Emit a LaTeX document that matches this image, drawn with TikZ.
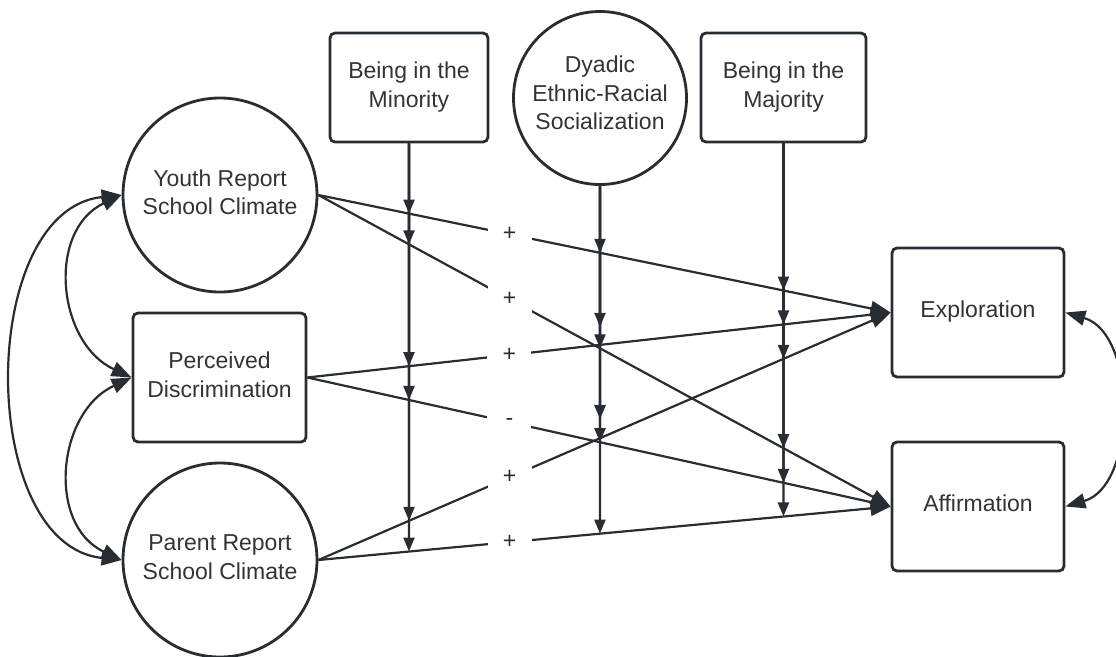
\documentclass[tikz,border=0pt]{standalone}
\usepackage{fontspec}
\setmainfont{Liberation Sans}
\usetikzlibrary{arrows.meta,calc}
\definecolor{ln}{HTML}{282C33}
\definecolor{tx}{HTML}{333333}
\begin{document}
\begin{tikzpicture}[x=1pt,y=-1pt,
  every node/.style={font=\fontsize{23}{28.5}\selectfont, text=tx},
  circ/.style={circle, draw=ln, line width=2.8pt, minimum size=#1, inner sep=0pt, align=center, text depth=6pt},
  box/.style={rectangle, rounded corners=5pt, draw=ln, line width=2.8pt, inner sep=0pt, align=center, text depth=6pt},
  pathline/.style={draw=ln, line width=2.2pt, -{Triangle[length=20pt,width=15pt]}},
  modline/.style={draw=ln, line width=2.2pt, -{Triangle[length=14pt,width=11pt]}},
  covline/.style={draw=ln, line width=2.2pt, {Triangle[length=20pt,width=15pt]}-{Triangle[length=20pt,width=15pt]}},
  lbl/.style={fill=white, minimum width=44pt, minimum height=40pt, inner sep=0pt, text=ln}
]
\useasboundingbox (0,0) rectangle (1116,656);

% nodes
\node[circ=194pt] (yrc) at (220,195) {Youth Report\\School Climate};
\node[box, minimum width=173pt, minimum height=129pt] (perc) at (219.5,377.5) {Perceived\\Discrimination};
\node[circ=194pt] (prc) at (220,560) {Parent Report\\School Climate};
\node[box, minimum width=158pt, minimum height=109pt] (mino) at (409,87.5) {Being in the\\Minority};
\node[circ=173pt, text depth=10pt] (dya) at (600,98) {Dyadic\\Ethnic-Racial\\Socialization};
\node[box, minimum width=165pt, minimum height=109pt] (maj) at (783.5,87.5) {Being in the\\Majority};
\node[box, minimum width=172pt, minimum height=129pt] (exp) at (978,312.5) {Exploration};
\node[box, minimum width=172pt, minimum height=129pt] (aff) at (978,506.5) {Affirmation};

% main paths
\draw[pathline] (yrc.east) -- node[lbl, pos=.334]{+} (exp.west);
\draw[pathline] (yrc.east) -- node[lbl, pos=.334]{+} (aff.west);
\draw[pathline] (perc.east) -- node[lbl, pos=.3464]{+} (exp.west);
\draw[pathline] (perc.east) -- node[lbl, pos=.3464]{-} (aff.west);
\draw[pathline] (prc.east) -- node[lbl, pos=.334]{+} (exp.west);
\draw[pathline] (prc.east) -- node[lbl, pos=.334]{+} (aff.west);

% covariances
\draw[covline] (yrc.west) .. controls +(-145,15) and +(-145,-15) .. (prc.west);
\draw[covline] (yrc.west) .. controls +(-75,35) and +(-75,-35) .. (perc.west);
\draw[covline] (perc.west) .. controls +(-75,35) and +(-75,-35) .. (prc.west);
\draw[covline] (exp.east) .. controls +(72,21) and +(72,-21) .. (aff.east);

% helper points below moderators
\coordinate (minoB) at ([yshift=-600pt]mino.south);
\coordinate (dyaB) at ([yshift=-600pt]dya.south);
\coordinate (majB) at ([yshift=-600pt]maj.south);

% crossings
\foreach \m in {mino,dya,maj}{
  \coordinate (\m1) at (intersection of yrc.east--exp.west and \m.south--\m B);
  \coordinate (\m2) at (intersection of yrc.east--aff.west and \m.south--\m B);
  \coordinate (\m3) at (intersection of perc.east--exp.west and \m.south--\m B);
  \coordinate (\m4) at (intersection of perc.east--aff.west and \m.south--\m B);
  \coordinate (\m5) at (intersection of prc.east--exp.west and \m.south--\m B);
  \coordinate (\m6) at (intersection of prc.east--aff.west and \m.south--\m B);
}

% moderation arrows
\foreach \i in {1,...,6}{
  \draw[modline] (mino.south) -- (mino\i);
  \draw[modline] (maj.south) -- (maj\i);
}
\draw[modline] (dya.south) -- (dya1);
\draw[modline] (dya.south) -- (dya2);
\draw[modline, shorten >=18pt] (dya.south) -- (dya3);
\draw[modline] (dya.south) -- (dya4);
\draw[modline, shorten >=19pt] (dya.south) -- (dya5);
\draw[modline] (dya.south) -- (dya6);
\end{tikzpicture}
\end{document}
